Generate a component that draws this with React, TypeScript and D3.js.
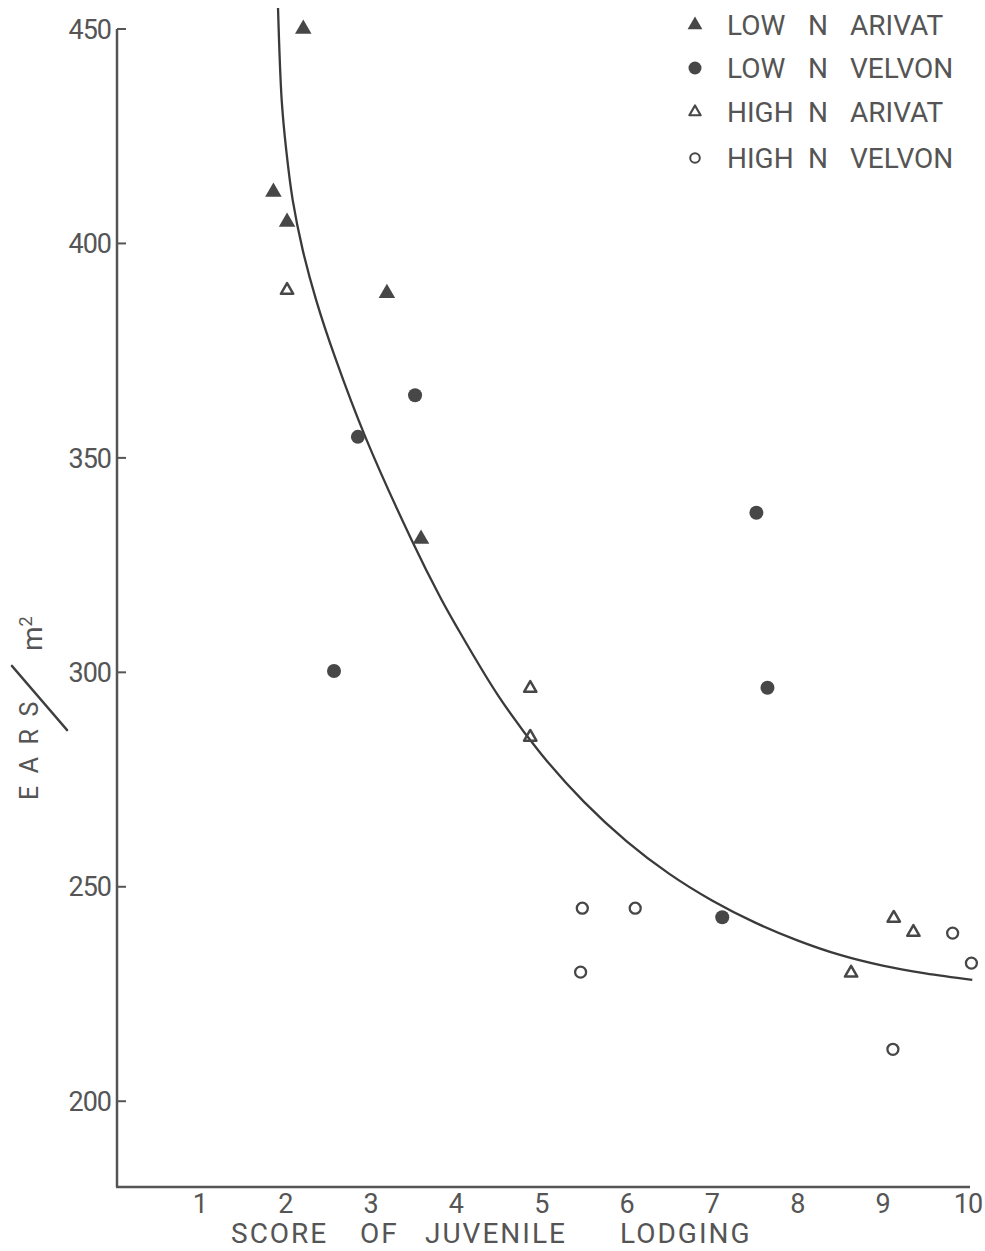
import React from "react";
import * as d3 from "d3";

// ---- data ----
const lowArivatX = [2.21, 1.86, 2.02, 3.19, 3.59];
const lowArivatY = [450, 412, 405, 388.4, 331.1];

const lowVelvonX = [3.52, 2.85, 2.57, 7.52, 7.65, 7.12];
const lowVelvonY = [364.6, 354.9, 300.3, 337.2, 296.4, 242.9];

const highArivatX = [2.02, 4.87, 4.87, 8.63, 9.13, 9.36];
const highArivatY = [389.1, 296.3, 284.9, 229.9, 242.7, 239.4];

const highVelvonX = [5.48, 6.1, 5.46, 9.12, 9.82, 10.04];
const highVelvonY = [245.0, 245.0, 230.1, 212.1, 239.2, 232.2];

// fitted curve as drawn
const curveX = [1.914, 1.957, 2.01, 2.086, 2.203, 2.361, 2.585, 2.937, 3.481, 3.815, 4.0, 4.5, 5.0, 5.5, 6.0, 6.5, 7.0, 7.5, 8.0, 8.5, 9.0, 9.5, 10.05];
const curveY = [454.9, 433.4, 421.8, 410.1, 398.5, 386.8, 373.3, 354.9, 330.8, 317.5, 310.9, 294.4, 280.9, 269.8, 260.6, 253.0, 246.8, 241.7, 237.5, 234.1, 231.6, 229.8, 228.3];

const xTicks = [1, 2, 3, 4, 5, 6, 7, 8, 9, 10];
const yTicks = [200, 250, 300, 350, 400, 450];

const legendLabels = [
  ["LOW", "N", "ARIVAT"],
  ["LOW", "N", "VELVON"],
  ["HIGH", "N", "ARIVAT"],
  ["HIGH", "N", "VELVON"],
];
const xTitleWords = ["SCORE", "OF", "JUVENILE", "LODGING"];

const W = 985;
const H = 1251;
const FONT = "Roboto, 'DejaVu Sans', sans-serif";
const INK = "#555";
const MARK = "#474747";

export default function App() {
  const xs = d3.scaleLinear().domain([0, 10]).range([114.7, 968]);
  const ys = d3.scaleLinear().domain([180, 450]).range([1187, 29]);
  const axisX = 117;
  const axisY = ys(180);

  const line = d3
    .line<number>()
    .x((_, i) => xs(curveX[i]))
    .y((_, i) => ys(curveY[i]))
    .curve(d3.curveCatmullRom.alpha(0.5));

  const triFilled = d3.symbol(d3.symbolTriangle, 118)() as string;
  const triOpen = d3.symbol(d3.symbolTriangle, 66)() as string;
  const triFilledLeg = d3.symbol(d3.symbolTriangle, 95)() as string;
  const triOpenLeg = d3.symbol(d3.symbolTriangle, 55)() as string;

  const legendRowsY = [25, 68, 112, 158];
  const legendWordX = [727, 808, 850];
  const xTitleX = [231, 360, 425, 620];

  const legendMarker = (i: number, cy: number) => {
    const cx = 695;
    if (i === 0)
      return <path d={triFilledLeg} transform={`translate(${cx},${cy})`} fill={MARK} />;
    if (i === 1) return <circle cx={cx} cy={cy} r={6.5} fill={MARK} />;
    if (i === 2)
      return (
        <path d={triOpenLeg} transform={`translate(${cx},${cy})`} fill="none" stroke={MARK} strokeWidth={2.2} strokeLinejoin="round" />
      );
    return <circle cx={cx} cy={cy} r={4.8} fill="none" stroke={MARK} strokeWidth={2} />;
  };

  return (
    <svg
      width={W}
      height={H}
      viewBox={`0 0 ${W} ${H}`}
      style={{ position: "absolute", left: 0, top: 0, background: "#fff" }}
      fontFamily={FONT}
    >
      <rect x={0} y={0} width={W} height={H} fill="#fff" />

      {/* axes */}
      <line x1={axisX} y1={ys(450)} x2={axisX} y2={axisY} stroke={INK} strokeWidth={2.5} />
      <line x1={axisX - 1} y1={axisY} x2={970} y2={axisY} stroke={INK} strokeWidth={2.5} />

      {yTicks.map((t) => (
        <g key={t}>
          <line x1={axisX} x2={axisX + 9} y1={ys(t)} y2={ys(t)} stroke={INK} strokeWidth={2} />
          <text x={axisX - 6} y={ys(t)} dy="0.36em" textAnchor="end" fontSize={27} fill={INK} letterSpacing={-1}>
            {t}
          </text>
        </g>
      ))}

      {xTicks.map((t) => (
        <text key={t} x={xs(t)} y={1213} textAnchor="middle" fontSize={27} fill={INK} letterSpacing={-0.8}>
          {t}
        </text>
      ))}

      {/* x title */}
      <text y={1243} fontSize={28} fill={INK} letterSpacing={2}>
        {xTitleWords.map((w, i) => (
          <tspan key={w} x={xTitleX[i]}>
            {w}
          </tspan>
        ))}
      </text>

      {/* y title */}
      <text transform="translate(38,800) rotate(-90)" fontSize={25} fill={INK} letterSpacing={12.5}>
        EARS
      </text>
      <line x1={12} y1={666} x2={67} y2={730} stroke="#3f3f3f" strokeWidth={2.6} strokeLinecap="round" />
      <text transform="translate(42,651) rotate(-90)" fontSize={28} fill={INK}>
        m
        <tspan fontSize={18} dy={-10}>
          2
        </tspan>
      </text>

      {/* curve */}
      <path d={line(curveX) as string} fill="none" stroke="#3a3a3a" strokeWidth={2.3} />

      {/* points */}
      {lowArivatX.map((x, i) => (
        <path key={"la" + i} d={triFilled} transform={`translate(${xs(x)},${ys(lowArivatY[i])})`} fill={MARK} />
      ))}
      {lowVelvonX.map((x, i) => (
        <circle key={"lv" + i} cx={xs(x)} cy={ys(lowVelvonY[i])} r={7} fill={MARK} />
      ))}
      {highArivatX.map((x, i) => (
        <path
          key={"ha" + i}
          d={triOpen}
          transform={`translate(${xs(x)},${ys(highArivatY[i])})`}
          fill="none"
          stroke={MARK}
          strokeWidth={2.5}
          strokeLinejoin="round"
        />
      ))}
      {highVelvonX.map((x, i) => (
        <circle key={"hv" + i} cx={xs(x)} cy={ys(highVelvonY[i])} r={5.5} fill="none" stroke={MARK} strokeWidth={2.3} />
      ))}

      {/* legend */}
      {legendLabels.map((words, i) => (
        <g key={i}>
          {legendMarker(i, legendRowsY[i])}
          <text y={legendRowsY[i]} dy="0.36em" fontSize={28} fill={INK}>
            {words.map((w, j) => (
              <tspan key={j} x={legendWordX[j]}>
                {w}
              </tspan>
            ))}
          </text>
        </g>
      ))}
    </svg>
  );
}
